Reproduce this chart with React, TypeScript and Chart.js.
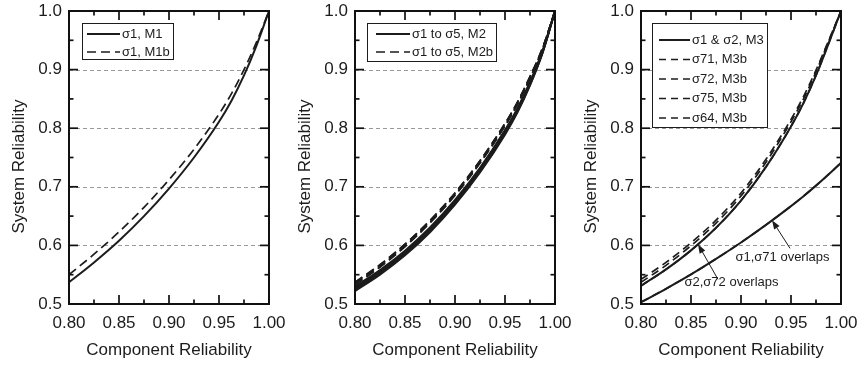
import React, { useEffect, useRef } from "react";
import { Chart, registerables } from "chart.js";

Chart.register(...registerables);

const FONT = '"Liberation Sans", Arial, Helvetica, sans-serif';
const INK = "#1c1c1c";

// ---------- shared axes ----------
const componentReliability = [0.8, 0.825, 0.85, 0.875, 0.9, 0.925, 0.95, 0.9625, 0.975, 0.9875, 1.0];
const xTickValues = [0.8, 0.85, 0.9, 0.95, 1.0];
const xMinorValues = [0.825, 0.875, 0.925, 0.975];
const yTickValues = [0.5, 0.6, 0.7, 0.8, 0.9, 1.0];
const yMinorValues = [0.55, 0.65, 0.75, 0.85, 0.95];
const gridValues = [0.6, 0.7, 0.8, 0.9];
const xTitle = "Component Reliability";
const yTitle = "System Reliability";

// ---------- panel 1 ----------
const p1Labels = ["σ1, M1", "σ1, M1b"];
const p1M1 = [0.537, 0.571, 0.608, 0.65, 0.697, 0.75, 0.811, 0.847, 0.89, 0.941, 1.0];
const p1M1b = [0.55, 0.585, 0.623, 0.665, 0.712, 0.764, 0.824, 0.859, 0.9, 0.947, 1.0];

// ---------- panel 2 ----------
const p2Labels = ["σ1 to σ5, M2", "σ1 to σ5, M2b"];
const p2M2s1 = [0.522, 0.55, 0.583, 0.6225, 0.6695, 0.7245, 0.789, 0.827, 0.873, 0.928, 1.0];
const p2M2s2 = [0.524, 0.552, 0.585, 0.6245, 0.6715, 0.7265, 0.791, 0.8288, 0.8745, 0.9289, 1.0];
const p2M2s3 = [0.526, 0.554, 0.587, 0.6265, 0.6735, 0.7285, 0.793, 0.8306, 0.876, 0.9298, 1.0];
const p2M2s4 = [0.528, 0.556, 0.589, 0.6285, 0.6755, 0.7305, 0.795, 0.8324, 0.8775, 0.9307, 1.0];
const p2M2s5 = [0.53, 0.558, 0.591, 0.6305, 0.6775, 0.7325, 0.797, 0.8342, 0.879, 0.9316, 1.0];
const p2M2bs1 = [0.533, 0.563, 0.598, 0.6385, 0.6855, 0.7405, 0.804, 0.841, 0.885, 0.935, 1.0];
const p2M2bs2 = [0.533, 0.563, 0.598, 0.6385, 0.6855, 0.7405, 0.804, 0.841, 0.885, 0.935, 1.0];
const p2M2bs3 = [0.535, 0.565, 0.6, 0.6405, 0.6875, 0.7425, 0.806, 0.8428, 0.8865, 0.9359, 1.0];
const p2M2bs4 = [0.537, 0.567, 0.602, 0.6425, 0.6895, 0.7445, 0.808, 0.8446, 0.888, 0.9368, 1.0];
const p2M2bs5 = [0.537, 0.567, 0.602, 0.6425, 0.6895, 0.7445, 0.808, 0.8446, 0.888, 0.9368, 1.0];

// ---------- panel 3 ----------
const p3Labels = ["σ1 & σ2, M3", "σ71, M3b", "σ72, M3b", "σ75, M3b", "σ64, M3b"];
const p3M3s1 = [0.503, 0.526, 0.5505, 0.577, 0.605, 0.635, 0.667, 0.684, 0.702, 0.721, 0.741];
const p3M3s2 = [0.531, 0.559, 0.5915, 0.63, 0.6765, 0.734, 0.803, 0.843, 0.89, 0.944, 1.0];
const p3M3bs71 = [0.503, 0.526, 0.5505, 0.577, 0.605, 0.635, 0.667, 0.684, 0.702, 0.721, 0.741];
const p3M3bs72 = [0.531, 0.559, 0.5915, 0.63, 0.6765, 0.734, 0.803, 0.843, 0.89, 0.944, 1.0];
const p3M3bs75 = [0.537, 0.566, 0.5995, 0.638, 0.6845, 0.742, 0.811, 0.85, 0.896, 0.948, 1.0];
const p3M3bs64 = [0.542, 0.571, 0.6045, 0.643, 0.6895, 0.747, 0.815, 0.854, 0.899, 0.949, 1.0];

// annotations (panel 3), in data units
const noteTexts = ["σ1,σ71 overlaps", "σ2,σ72 overlaps"];
const noteTextX = [0.9415, 0.8905];
const noteTextY = [0.58, 0.536];
const arrowTipX = [0.931, 0.857];
const arrowTipY = [0.643, 0.602];
const arrowTailX = [0.949, 0.877];
const arrowTailY = [0.595, 0.542];

const SOLID_W = 2;
const DASH_W = 1.7;

function pts(arr: number[]) {
  return componentReliability.map((x, i) => ({ x, y: arr[i] }));
}

function solid(arr: number[], legendLabel?: string) {
  return {
    label: legendLabel || "",
    legendLabel,
    data: pts(arr),
    borderColor: INK,
    borderWidth: SOLID_W,
    borderDash: [] as number[],
    pointRadius: 0,
    cubicInterpolationMode: "monotone" as const,
    order: 2,
  };
}

function dashed(arr: number[], legendLabel?: string, dash: number[] = [9, 5]) {
  return {
    label: legendLabel || "",
    legendLabel,
    data: pts(arr),
    borderColor: INK,
    borderWidth: DASH_W,
    borderDash: dash,
    pointRadius: 0,
    cubicInterpolationMode: "monotone" as const,
    order: 1,
  };
}

function drawFrame(chart: any) {
  const ctx: CanvasRenderingContext2D = chart.ctx;
  const a = chart.chartArea;
  const xs = chart.scales.x;
  const ys = chart.scales.y;
  const L = Math.round(a.left);
  const R = Math.round(a.right);
  const T = Math.round(a.top);
  const B = Math.round(a.bottom);
  ctx.save();
  ctx.globalAlpha = 1;
  ctx.fillStyle = "#111111";
  ctx.fillRect(L - 1, T - 1, R - L + 2, 2);
  ctx.fillRect(L - 1, B - 1, R - L + 2, 2);
  ctx.fillRect(L - 1, T - 1, 2, B - T + 2);
  ctx.fillRect(R - 1, T - 1, 2, B - T + 2);

  const major = 9;
  const minor = 4.5;
  const tw = 1.7;
  const xTick = (v: number, len: number) => {
    const p = xs.getPixelForValue(v);
    ctx.fillRect(p - tw / 2, B - len, tw, len);
    ctx.fillRect(p - tw / 2, T, tw, len);
  };
  const yTick = (v: number, len: number) => {
    const p = ys.getPixelForValue(v);
    ctx.fillRect(L, p - tw / 2, len, tw);
    ctx.fillRect(R - len, p - tw / 2, len, tw);
  };
  for (const v of xTickValues) xTick(v, major);
  for (const v of xMinorValues) xTick(v, minor);
  for (const v of yTickValues) yTick(v, major);
  for (const v of yMinorValues) yTick(v, minor);
  ctx.restore();
}

const framePlugin = {
  id: "frame",
  beforeDatasetsDraw(chart: any) {
    const { ctx, chartArea: a, scales } = chart;
    const y = scales.y;
    ctx.save();
    ctx.strokeStyle = "#9a9a9a";
    ctx.lineWidth = 1;
    ctx.setLineDash([4, 3]);
    gridValues.forEach((v) => {
      const py = Math.round(y.getPixelForValue(v)) + 0.5;
      ctx.beginPath();
      ctx.moveTo(a.left, py);
      ctx.lineTo(a.right, py);
      ctx.stroke();
    });
    ctx.restore();
  },
  afterDraw(chart: any, _args: any, opts: any) {
    const { ctx, chartArea: a, scales } = chart;
    const x = scales.x;
    const y = scales.y;

    ctx.save();
    ctx.fillStyle = INK;
    ctx.font = `17px ${FONT}`;
    ctx.textAlign = "center";
    ctx.textBaseline = "middle";
    ctx.save();
    ctx.translate(a.left - 50, (a.top + a.bottom) / 2 + 9);
    ctx.rotate(-Math.PI / 2);
    ctx.fillText(yTitle, 0, 0);
    ctx.restore();

    const lg = opts.legend;
    const items = chart.data.datasets.filter((d: any) => d.legendLabel);
    ctx.font = `13px ${FONT}`;
    let maxW = 0;
    items.forEach((d: any) => {
      maxW = Math.max(maxW, ctx.measureText(d.legendLabel).width);
    });
    const bx = a.left + lg.offsetX;
    const by = a.top + lg.offsetY;
    const textX = bx + lg.samplePad + lg.sampleLen + 2;
    const bw = textX - bx + maxW + 3;
    ctx.fillStyle = "#ffffff";
    ctx.fillRect(bx, by, bw, lg.height);
    ctx.lineWidth = 1;
    ctx.strokeStyle = INK;
    ctx.setLineDash([]);
    ctx.strokeRect(Math.round(bx) + 0.5, Math.round(by) + 0.5, Math.round(bw), lg.height);
    items.forEach((d: any, i: number) => {
      const ry = by + lg.firstRow + i * lg.rowGap;
      ctx.save();
      ctx.lineWidth = d.borderWidth;
      ctx.strokeStyle = INK;
      ctx.setLineDash(d.borderDash && d.borderDash.length ? lg.sampleDash : []);
      ctx.beginPath();
      ctx.moveTo(bx + lg.samplePad, ry);
      ctx.lineTo(bx + lg.samplePad + lg.sampleLen, ry);
      ctx.stroke();
      ctx.restore();
      ctx.fillStyle = INK;
      ctx.textAlign = "left";
      ctx.textBaseline = "middle";
      ctx.fillText(d.legendLabel, textX, ry);
    });

    (opts.notes || []).forEach((n: any) => {
      ctx.fillStyle = INK;
      ctx.font = `13px ${FONT}`;
      ctx.textAlign = "center";
      ctx.textBaseline = "middle";
      ctx.fillText(n.text, x.getPixelForValue(n.tx), y.getPixelForValue(n.ty));
      const x1 = x.getPixelForValue(n.ax0);
      const y1 = y.getPixelForValue(n.ay0);
      const x2 = x.getPixelForValue(n.ax1);
      const y2 = y.getPixelForValue(n.ay1);
      const ang = Math.atan2(y2 - y1, x2 - x1);
      const hl = 9;
      const hw = 3.2;
      ctx.strokeStyle = INK;
      ctx.lineWidth = 1;
      ctx.setLineDash([]);
      ctx.beginPath();
      ctx.moveTo(x1, y1);
      ctx.lineTo(x2 - Math.cos(ang) * hl * 0.8, y2 - Math.sin(ang) * hl * 0.8);
      ctx.stroke();
      ctx.beginPath();
      ctx.moveTo(x2, y2);
      ctx.lineTo(x2 - Math.cos(ang) * hl - Math.sin(ang) * hw, y2 - Math.sin(ang) * hl + Math.cos(ang) * hw);
      ctx.lineTo(x2 - Math.cos(ang) * hl + Math.sin(ang) * hw, y2 - Math.sin(ang) * hl - Math.cos(ang) * hw);
      ctx.closePath();
      ctx.fill();
    });
    ctx.restore();

    drawFrame(chart);
  },
};

function zeroPad(s: any) {
  s.paddingLeft = 0;
  s.paddingRight = 0;
  s.paddingTop = 0;
  s.paddingBottom = 0;
}

function makeConfig(datasets: any[], legend: any, notes: any[]) {
  return {
    type: "line" as const,
    data: { datasets },
    options: {
      animation: false as const,
      responsive: false,
      maintainAspectRatio: false,
      layout: { padding: { top: 11, right: 17, left: 0, bottom: 0 } },
      plugins: {
        legend: { display: false },
        tooltip: { enabled: false },
        frame: { legend, notes },
      },
      scales: {
        x: {
          type: "linear" as const,
          min: 0.8,
          max: 1.0,
          afterBuildTicks: (s: any) => {
            s.ticks = xTickValues.map((v) => ({ value: v }));
          },
          afterFit: (s: any) => {
            s.height = 63;
            zeroPad(s);
          },
          ticks: {
            callback: (v: any) => Number(v).toFixed(2),
            font: { family: FONT, size: 17 },
            color: INK,
            padding: 9,
            maxRotation: 0,
            autoSkip: false,
          },
          grid: { display: false, drawTicks: false },
          border: { display: false },
          title: {
            display: true,
            text: xTitle,
            font: { family: FONT, size: 17 },
            color: INK,
            padding: { top: 0, bottom: 6 },
          },
        },
        y: {
          type: "linear" as const,
          min: 0.5,
          max: 1.0,
          afterBuildTicks: (s: any) => {
            s.ticks = yTickValues.map((v) => ({ value: v }));
          },
          afterFit: (s: any) => {
            s.width = 69;
            zeroPad(s);
          },
          ticks: {
            callback: (v: any) => Number(v).toFixed(1),
            font: { family: FONT, size: 17 },
            color: INK,
            padding: 7,
            autoSkip: false,
          },
          grid: { display: false, drawTicks: false },
          border: { display: false },
        },
      },
    },
    plugins: [framePlugin],
  };
}

export default function App() {
  const r1 = useRef<HTMLCanvasElement>(null);
  const r2 = useRef<HTMLCanvasElement>(null);
  const r3 = useRef<HTMLCanvasElement>(null);

  useEffect(() => {
    const c1 = new Chart(
      r1.current as HTMLCanvasElement,
      makeConfig(
        [solid(p1M1, p1Labels[0]), dashed(p1M1b, p1Labels[1])],
        { offsetX: 13, offsetY: 12, height: 36, firstRow: 11, rowGap: 18, samplePad: 5, sampleLen: 33, sampleDash: [9, 5] },
        []
      ) as any
    );
    const c2 = new Chart(
      r2.current as HTMLCanvasElement,
      makeConfig(
        [
          solid(p2M2s1, p2Labels[0]),
          dashed(p2M2bs1, p2Labels[1]),
          solid(p2M2s2),
          solid(p2M2s3),
          solid(p2M2s4),
          solid(p2M2s5),
          dashed(p2M2bs2),
          dashed(p2M2bs3),
          dashed(p2M2bs4),
          dashed(p2M2bs5),
        ],
        { offsetX: 12, offsetY: 12, height: 38, firstRow: 11, rowGap: 18, samplePad: 9, sampleLen: 34, sampleDash: [9, 5] },
        []
      ) as any
    );
    const notes = noteTexts.map((t, i) => ({
      text: t,
      tx: noteTextX[i],
      ty: noteTextY[i],
      ax0: arrowTailX[i],
      ay0: arrowTailY[i],
      ax1: arrowTipX[i],
      ay1: arrowTipY[i],
    }));
    const c3 = new Chart(
      r3.current as HTMLCanvasElement,
      makeConfig(
        [
          solid(p3M3s2, p3Labels[0]),
          dashed(p3M3bs71, p3Labels[1], [8, 5]),
          dashed(p3M3bs72, p3Labels[2], [8, 5]),
          dashed(p3M3bs75, p3Labels[3], [8, 5]),
          dashed(p3M3bs64, p3Labels[4], [8, 5]),
          solid(p3M3s1),
        ],
        { offsetX: 11, offsetY: 12, height: 104, firstRow: 17, rowGap: 19.5, samplePad: 7, sampleLen: 31, sampleDash: [7, 5] },
        notes
      ) as any
    );
    return () => {
      c1.destroy();
      c2.destroy();
      c3.destroy();
    };
  }, []);

  const canvasStyle = (left: number): React.CSSProperties => ({
    position: "absolute",
    left,
    top: 0,
    width: 286,
    height: 367,
  });

  return (
    <div style={{ position: "absolute", left: 0, top: 0, width: 860, height: 367, background: "#fff", overflow: "hidden" }}>
      <canvas ref={r1} width={286} height={367} style={canvasStyle(0)} />
      <canvas ref={r2} width={286} height={367} style={canvasStyle(286)} />
      <canvas ref={r3} width={286} height={367} style={canvasStyle(572)} />
    </div>
  );
}
